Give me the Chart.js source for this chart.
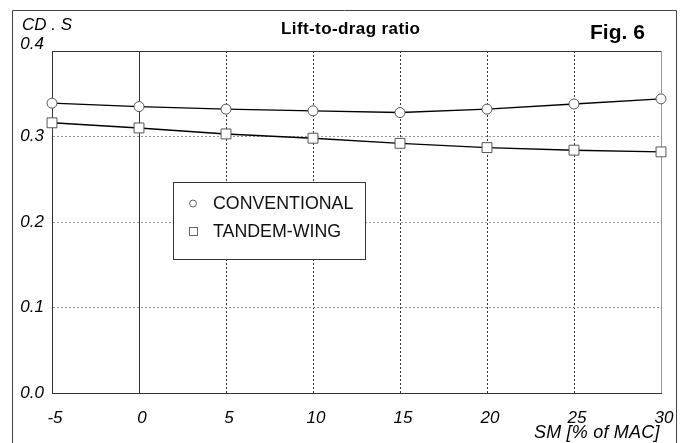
<!DOCTYPE html>
<html>
<head>
<meta charset="utf-8">
<title>Lift-to-drag ratio</title>
<script src="https://cdn.jsdelivr.net/npm/chart.js@4.4.1/dist/chart.umd.min.js"></script>
<style>
  html, body { margin: 0; padding: 0; background: #fff; }
  #wrap { width: 686px; height: 443px; }
</style>
</head>
<body>
<div id="wrap"><canvas id="chart" width="686" height="443"></canvas></div>
<script>
// static margin, % of MAC
const smValues = [-5, 0, 5, 10, 15, 20, 25, 30];
const conventional = [0.339, 0.335, 0.332, 0.330, 0.328, 0.332, 0.338, 0.344];
const tandemWing = [0.316, 0.310, 0.303, 0.298, 0.292, 0.287, 0.284, 0.282];

const xTicks = [-5, 0, 5, 10, 15, 20, 25, 30];
const yTicks = [0.0, 0.1, 0.2, 0.3, 0.4];

const seriesNames = ["CONVENTIONAL", "TANDEM-WING"];
const titleText = "Lift-to-drag ratio";
const figText = "Fig. 6";
const yTitle = "CD . S";
const xTitle = "SM [% of MAC]";

const FONT = "'Liberation Sans', Arial, sans-serif";

// frame, titles, y labels and the boxed legend
const decorations = {
  id: "decorations",
  afterDraw(chart) {
    const ctx = chart.ctx;
    const yScale = chart.scales.y;
    ctx.save();

    // outer frame (no bottom edge)
    ctx.strokeStyle = "#444";
    ctx.lineWidth = 1;
    ctx.beginPath();
    ctx.moveTo(12.5, 443);
    ctx.lineTo(12.5, 10.5);
    ctx.lineTo(676.5, 10.5);
    ctx.lineTo(676.5, 443);
    ctx.stroke();

    ctx.fillStyle = "#000";

    // y tick labels, the top one nudged up like the original
    ctx.font = "italic 17px " + FONT;
    ctx.textAlign = "right";
    ctx.textBaseline = "middle";
    yTicks.forEach((v) => {
      let py = yScale.getPixelForValue(v);
      if (v === yScale.max) py -= 7;
      ctx.fillText(v.toFixed(1), yScale.right - 8, py);
    });

    ctx.textBaseline = "alphabetic";
    ctx.textAlign = "left";
    ctx.fillText(yTitle, 22, 30);

    ctx.font = "bold 17px " + FONT;
    ctx.letterSpacing = "0.4px";
    ctx.fillText(titleText, 281, 34);

    ctx.letterSpacing = "0px";
    ctx.font = "bold 21px " + FONT;
    ctx.fillText(figText, 590, 39);

    ctx.font = "italic 18px " + FONT;
    ctx.letterSpacing = "0.2px";
    ctx.fillText(xTitle, 534, 438);
    ctx.letterSpacing = "0px";

    // legend box
    ctx.fillStyle = "#fff";
    ctx.fillRect(173, 182, 192, 77);
    ctx.strokeStyle = "#333";
    ctx.strokeRect(173.5, 182.5, 192, 77);

    ctx.strokeStyle = "#666";
    ctx.beginPath();
    ctx.arc(193, 203.5, 3.5, 0, Math.PI * 2);
    ctx.stroke();
    ctx.strokeRect(189.5, 227.5, 8, 8);

    ctx.fillStyle = "#111";
    ctx.font = "17.8px " + FONT;
    ctx.textAlign = "left";
    ctx.textBaseline = "middle";
    ctx.fillText(seriesNames[0], 213, 204);
    ctx.fillText(seriesNames[1], 213, 232);

    ctx.restore();
  }
};

new Chart(document.getElementById("chart"), {
  type: "line",
  data: {
    labels: smValues,
    datasets: [
      {
        label: seriesNames[0],
        data: smValues.map((x, i) => ({ x: x, y: conventional[i] })),
        borderColor: "#000",
        borderWidth: 1.4,
        pointStyle: "circle",
        pointRadius: 5,
        pointBackgroundColor: "#fff",
        pointBorderColor: "#555",
        pointBorderWidth: 1,
        clip: false,
      },
      {
        label: seriesNames[1],
        data: smValues.map((x, i) => ({ x: x, y: tandemWing[i] })),
        borderColor: "#000",
        borderWidth: 1.4,
        pointStyle: "rect",
        pointRadius: 7,
        pointBackgroundColor: "#fff",
        pointBorderColor: "#555",
        pointBorderWidth: 1,
        clip: false,
      },
    ],
  },
  options: {
    responsive: false,
    animation: false,
    devicePixelRatio: 1,
    layout: { padding: { left: 0, right: 25, top: 51, bottom: 0 } },
    plugins: {
      legend: { display: false },
      title: { display: false },
      tooltip: { enabled: false },
    },
    scales: {
      x: {
        type: "linear",
        min: -5,
        max: 30,
        afterBuildTicks: (scale) => { scale.ticks = xTicks.map((v) => ({ value: v })); },
        afterFit: (scale) => { scale.height = 50; },
        ticks: {
          font: { family: FONT, size: 17, style: "italic" },
          color: "#000",
          padding: 15,
          labelOffset: 3,
          maxRotation: 0,
          autoSkip: false,
        },
        grid: {
          drawTicks: false,
          color: (c) => (c.tick && c.tick.value === 30 ? "#999" : "#333"),
          lineWidth: 1,
        },
        border: {
          display: true,
          color: "#333",
          dash: (c) => (c.tick && c.tick.value > 0 && c.tick.value < 30 ? [2, 2] : []),
        },
      },
      y: {
        min: 0,
        max: 0.4,
        afterBuildTicks: (scale) => { scale.ticks = yTicks.map((v) => ({ value: v })); },
        afterFit: (scale) => { scale.width = 52; },
        ticks: { display: false },
        grid: {
          drawTicks: false,
          color: (c) => (c.tick && (c.tick.value === 0 || c.tick.value === 0.4) ? "#333" : "#999"),
          lineWidth: 1,
        },
        border: {
          display: true,
          color: "#333",
          dash: (c) => (c.tick && c.tick.value > 0 && c.tick.value < 0.4 ? [2, 2] : []),
        },
      },
    },
  },
  plugins: [decorations],
});
</script>
</body>
</html>
